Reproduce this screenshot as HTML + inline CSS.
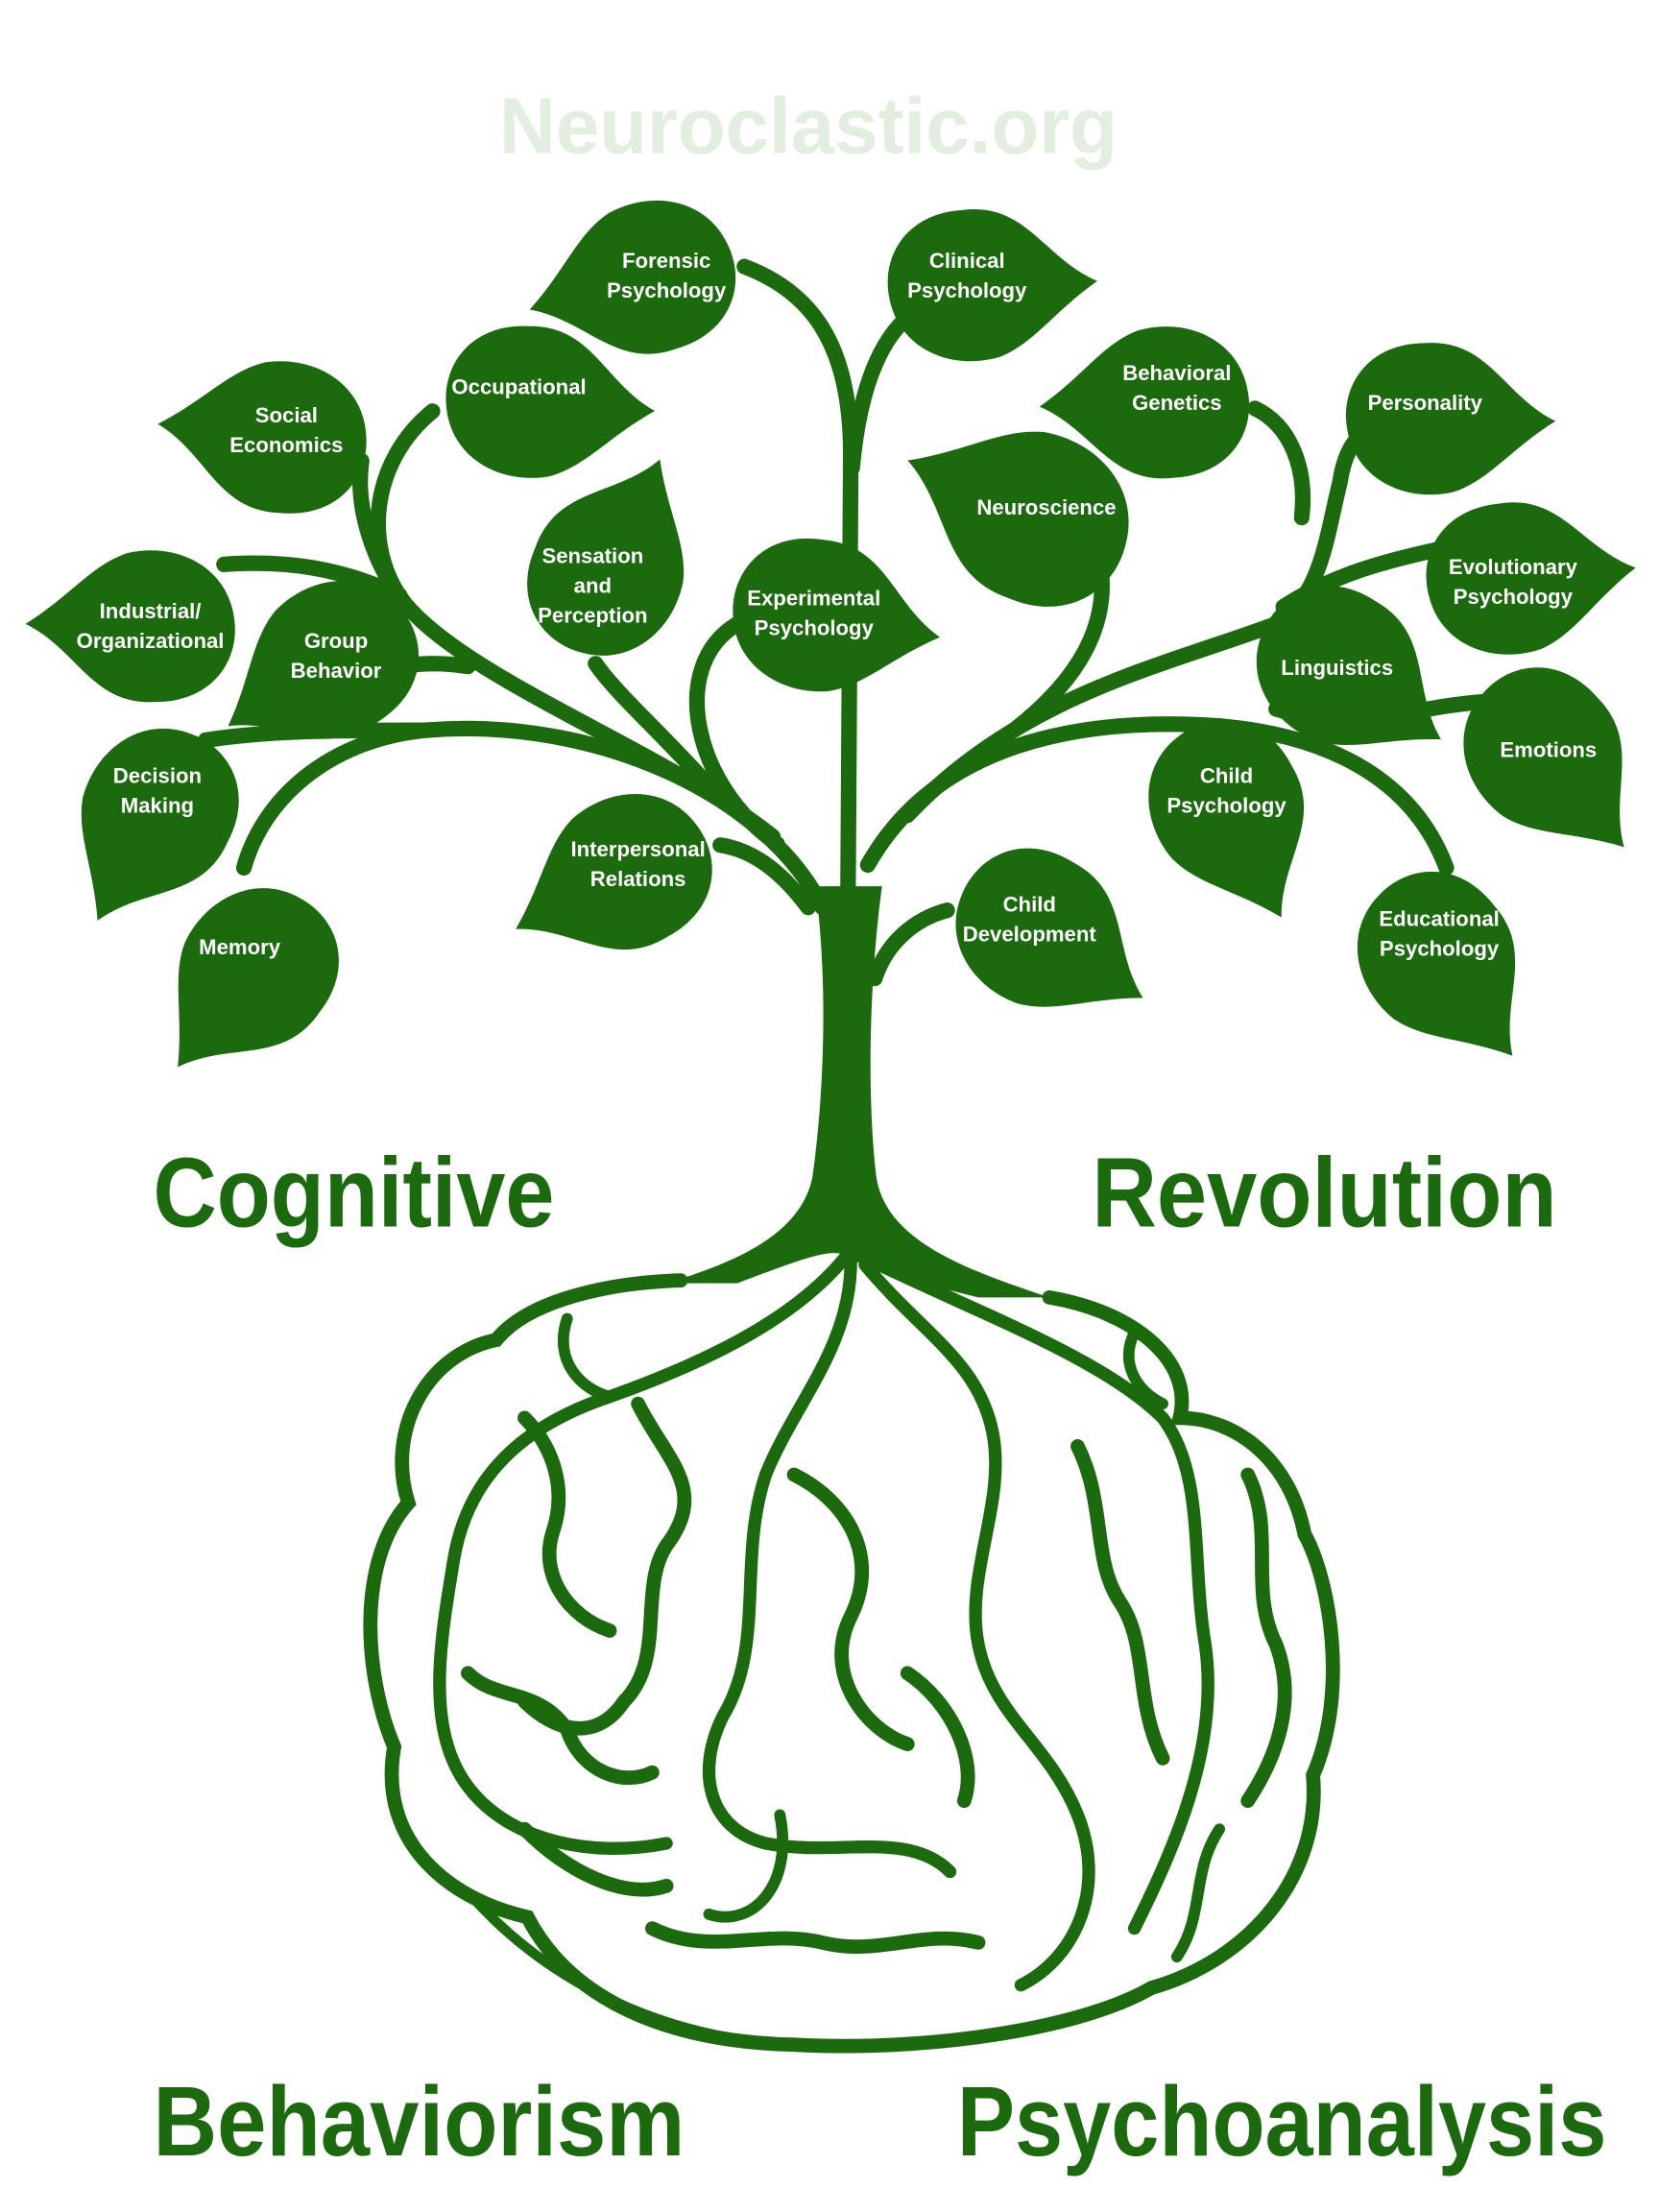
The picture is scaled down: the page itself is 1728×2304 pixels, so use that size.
<!DOCTYPE html>
<html><head><meta charset="utf-8"><style>
html,body{margin:0;padding:0;background:#fff;}
svg{display:block;}
.l{font-family:"Liberation Sans",sans-serif;font-weight:bold;font-size:15px;fill:#fff;text-anchor:middle;}
.b{font-family:"Liberation Sans",sans-serif;font-weight:bold;font-size:70px;fill:#1b6a0d;}
.s{fill:none;stroke:#1b6a0d;stroke-linecap:round;}
</style></head><body>
<svg width="1728" height="2304" viewBox="0 0 1170 1560" xmlns="http://www.w3.org/2000/svg">
<defs>
<path id="leaf" d="M92,0 C55,-18 45,-58 0,-55 C-40,-55 -60,-25 -55,5 C-50,40 -15,58 20,50 C45,42 60,20 92,0 Z" fill="#1b6a0d"/>
</defs>
<text x="570" y="108" text-anchor="middle" font-family="Liberation Sans,sans-serif" font-weight="bold" font-size="56" fill="#e2eedf" textLength="436" lengthAdjust="spacingAndGlyphs">Neuroclastic.org</text>

<g class="s" stroke-width="11">
<path d="M598,640 L600,320 C600,240 570,205 525,188"/>
<path d="M601,330 C606,275 620,240 642,222"/>
<path d="M580,640 C540,560 420,505 300,515 C230,522 185,565 172,612"/>
<path d="M300,515 C240,515 190,515 145,522"/>
<path d="M545,590 C470,530 330,480 285,425 C255,385 262,325 305,290"/>
<path d="M285,425 C265,400 250,360 255,325"/>
<path d="M282,420 C240,400 200,395 158,398"/>
<path d="M330,470 C300,465 270,470 250,480"/>
<path d="M505,560 C470,520 435,490 420,468"/>
<path d="M548,595 C490,555 470,470 520,440"/>
<path d="M508,596 C535,600 555,620 570,640"/>
<path d="M612,610 C660,525 760,505 860,512 C930,518 995,545 1020,612"/>
<path d="M950,515 C980,505 1010,498 1045,495"/>
<path d="M860,512 C880,530 890,545 895,560"/>
<path d="M640,575 C720,490 820,470 900,440 C932,420 935,380 945,340 C948,320 955,310 962,305"/>
<path d="M905,428 C940,405 980,395 1012,388"/>
<path d="M885,288 C910,300 922,330 918,365"/>
<path d="M775,392 C785,440 760,480 715,515"/>
<path d="M900,500 C915,505 930,505 940,500"/>
<path d="M617,690 C625,665 645,648 668,642"/>
</g>
<path d="M575,625 C585,700 580,780 573,830 C565,870 520,890 470,905 L520,905 C560,890 585,880 595,885 C610,895 650,905 690,915 L740,915 C680,895 625,875 618,830 C612,780 612,700 622,625 Z" fill="#1b6a0d"/>

<g>
<use href="#leaf" transform="translate(462,193) rotate(164)"/>
<use href="#leaf" transform="translate(682,203) rotate(-3)"/>
<use href="#leaf" transform="translate(370,285) rotate(3)"/>
<use href="#leaf" transform="translate(203,307) rotate(185)"/>
<use href="#leaf" transform="translate(825,282) rotate(177)"/>
<use href="#leaf" transform="translate(1005,297) rotate(0)"/>
<use href="#leaf" transform="translate(428,408) rotate(-66)"/>
<use href="#leaf" transform="translate(735,365) rotate(203) scale(1.12)"/>
<use href="#leaf" transform="translate(572,435) rotate(9)"/>
<use href="#leaf" transform="translate(110,440) rotate(180)"/>
<use href="#leaf" transform="translate(238,462) rotate(147)"/>
<use href="#leaf" transform="translate(1062,410) rotate(-6)"/>
<use href="#leaf" transform="translate(940,470) rotate(34)"/>
<use href="#leaf" transform="translate(1085,528) rotate(49)"/>
<use href="#leaf" transform="translate(112,568) rotate(118)"/>
<use href="#leaf" transform="translate(862,565) rotate(63)"/>
<use href="#leaf" transform="translate(445,612) rotate(152)"/>
<use href="#leaf" transform="translate(182,680) rotate(128)"/>
<use href="#leaf" transform="translate(728,655) rotate(32)"/>
<use href="#leaf" transform="translate(1010,672) rotate(52)"/>
</g>

<g class="l">
<text x="470" y="189">Forensic</text><text x="470" y="210">Psychology</text>
<text x="682" y="189">Clinical</text><text x="682" y="210">Psychology</text>
<text x="366" y="278">Occupational</text>
<text x="202" y="298">Social</text><text x="202" y="319">Economics</text>
<text x="830" y="268">Behavioral</text><text x="830" y="289">Genetics</text>
<text x="1005" y="289">Personality</text>
<text x="418" y="397">Sensation</text><text x="418" y="418">and</text><text x="418" y="439">Perception</text>
<text x="738" y="363">Neuroscience</text>
<text x="574" y="427">Experimental</text><text x="574" y="448">Psychology</text>
<text x="106" y="436">Industrial/</text><text x="106" y="457">Organizational</text>
<text x="237" y="457">Group</text><text x="237" y="478">Behavior</text>
<text x="1067" y="405">Evolutionary</text><text x="1067" y="426">Psychology</text>
<text x="943" y="476">Linguistics</text>
<text x="1092" y="534">Emotions</text>
<text x="111" y="552">Decision</text><text x="111" y="573">Making</text>
<text x="865" y="552">Child</text><text x="865" y="573">Psychology</text>
<text x="450" y="604">Interpersonal</text><text x="450" y="625">Relations</text>
<text x="169" y="673">Memory</text>
<text x="726" y="643">Child</text><text x="726" y="664">Development</text>
<text x="1015" y="653">Educational</text><text x="1015" y="674">Psychology</text>
</g>

<g class="s" stroke-width="10">
<path d="M480,903 C420,905 370,920 350,945 C300,955 272,1010 288,1060 C252,1100 256,1180 278,1232 C266,1300 318,1340 372,1352 C402,1410 470,1440 560,1442 C650,1447 760,1432 812,1402 C882,1382 932,1322 926,1252 C952,1192 937,1112 920,1082 C910,1030 872,1000 832,1000 C842,960 800,925 740,915"/>
<path d="M335,1340 C390,1400 470,1438 560,1442" stroke-width="7"/>
<path d="M595,888 C560,930 500,960 430,985 C370,1005 330,1040 320,1100 C310,1160 300,1220 330,1260 C360,1300 420,1310 470,1300" stroke-width="9"/>
<path d="M600,890 C600,950 560,990 540,1040 C520,1100 540,1160 510,1210 C490,1250 500,1290 540,1300 C590,1310 640,1290 670,1320" stroke-width="9"/>
<path d="M610,892 C650,940 690,960 700,1010 C710,1060 680,1110 690,1160 C700,1210 740,1230 760,1280 C780,1330 760,1380 720,1400" stroke-width="9"/>
<path d="M620,892 C700,930 780,960 820,1000 C850,1040 840,1100 850,1160 C860,1230 830,1300 800,1360" stroke-width="9"/>
<path d="M370,1000 C390,1020 400,1050 390,1080 C380,1110 400,1140 430,1150"/>
<path d="M450,990 C470,1030 500,1050 470,1090 C450,1120 470,1170 440,1200 C420,1230 390,1220 370,1200"/>
<path d="M330,1180 C350,1200 380,1190 400,1220 C410,1250 440,1260 460,1250"/>
<path d="M560,1040 C600,1060 620,1100 600,1140 C580,1180 610,1220 640,1230"/>
<path d="M760,1020 C780,1060 770,1100 790,1130 C810,1160 800,1200 820,1240"/>
<path d="M880,1040 C900,1080 880,1120 900,1160 C915,1200 900,1240 880,1270"/>
<path d="M460,1360 C500,1380 540,1360 580,1370 C620,1380 650,1360 690,1370"/>
<path d="M370,1290 C400,1320 440,1340 470,1330"/>
<path d="M640,1180 C670,1200 690,1240 680,1270"/>
<path d="M400,930 C390,960 410,980 430,985" stroke-width="8"/>
<path d="M800,940 C790,960 800,980 820,990" stroke-width="8"/>
<path d="M550,1280 C560,1330 530,1360 500,1350" stroke-width="8"/>
<path d="M860,1290 C840,1320 850,1350 830,1380" stroke-width="8"/>
</g>

<text class="b" x="108" y="865" textLength="283" lengthAdjust="spacingAndGlyphs">Cognitive</text>
<text class="b" x="770" y="865" textLength="328" lengthAdjust="spacingAndGlyphs">Revolution</text>
<text class="b" x="108" y="1520" textLength="375" lengthAdjust="spacingAndGlyphs">Behaviorism</text>
<text class="b" x="675" y="1520" textLength="458" lengthAdjust="spacingAndGlyphs">Psychoanalysis</text>
</svg>
</body></html>
